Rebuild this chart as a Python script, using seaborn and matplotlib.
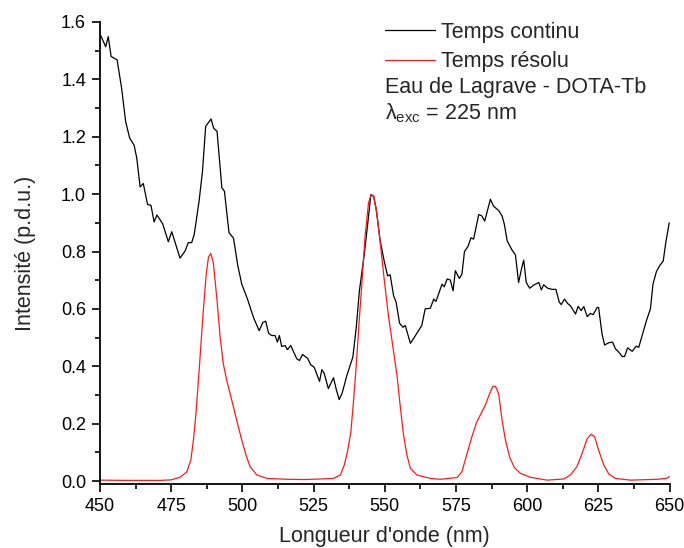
import matplotlib
matplotlib.use("Agg")
import matplotlib.pyplot as plt
from matplotlib.ticker import MultipleLocator
import seaborn as sns
import pandas as pd

# Temps continu (black)
cont_wl = [450.3, 452.0, 452.9, 453.9, 456.0, 457.6, 459.0, 460.4, 462.0, 462.9,
           464.1, 465.2, 466.7, 467.9, 469.0, 470.0, 472.0, 474.0, 475.2, 478.1,
           479.9, 481.0, 482.2, 483.1, 484.8, 486.0, 487.1, 489.0, 489.9, 491.1,
           492.8, 493.7, 495.3, 496.9, 498.4, 499.8, 501.8, 503.9, 505.9, 507.2,
           508.2, 509.2, 510.3, 511.5, 512.3, 513.0, 513.8, 515.0, 515.8, 517.0,
           519.1, 520.1, 521.1, 522.9, 524.0, 525.2, 527.1, 527.9, 528.7, 530.2,
           532.0, 533.0, 534.0, 535.0, 536.7, 538.8, 540.0, 541.1, 542.8, 544.0,
           545.1, 546.1, 547.0, 548.4, 549.8, 551.0, 551.9, 553.1, 554.0, 555.2,
           556.4, 557.2, 559.0, 560.4, 563.0, 564.2, 566.0, 567.2, 568.0, 570.1,
           570.9, 571.9, 573.0, 574.0, 574.8, 576.2, 577.1, 578.0, 579.2, 580.3,
           581.2, 583.0, 584.1, 585.1, 587.1, 588.2, 590.0, 591.2, 592.0, 593.0,
           594.7, 595.9, 597.0, 598.0, 598.8, 599.7, 600.9, 602.5, 604.1, 605.0,
           605.8, 607.2, 608.7, 610.1, 611.3, 612.0, 613.1, 614.2, 615.2, 617.0,
           617.9, 619.0, 619.9, 621.1, 622.2, 623.2, 624.6, 625.1, 626.3, 627.2,
           628.7, 630.0, 631.0, 632.2, 633.4, 634.2, 635.3, 636.9, 638.3, 639.2,
           640.4, 641.9, 643.3, 644.2, 645.4, 646.5, 647.8, 648.7, 649.9]
cont_val = [1.552, 1.514, 1.549, 1.480, 1.468, 1.369, 1.253, 1.196, 1.170, 1.126,
            1.025, 1.037, 0.964, 0.961, 0.903, 0.927, 0.897, 0.834, 0.869, 0.777,
            0.802, 0.831, 0.831, 0.860, 0.976, 1.080, 1.236, 1.262, 1.230, 1.219,
            1.022, 1.010, 0.866, 0.846, 0.750, 0.686, 0.634, 0.570, 0.524, 0.553,
            0.557, 0.515, 0.507, 0.507, 0.484, 0.507, 0.469, 0.472, 0.458, 0.472,
            0.426, 0.420, 0.441, 0.428, 0.405, 0.397, 0.347, 0.388, 0.376, 0.322,
            0.360, 0.318, 0.284, 0.305, 0.368, 0.432, 0.536, 0.663, 0.790, 0.895,
            0.997, 0.993, 0.947, 0.837, 0.767, 0.715, 0.719, 0.646, 0.623, 0.550,
            0.536, 0.542, 0.480, 0.501, 0.542, 0.600, 0.602, 0.634, 0.626, 0.686,
            0.677, 0.704, 0.701, 0.663, 0.733, 0.706, 0.721, 0.800, 0.817, 0.848,
            0.843, 0.929, 0.924, 0.906, 0.982, 0.958, 0.943, 0.924, 0.895, 0.837,
            0.805, 0.788, 0.692, 0.738, 0.770, 0.692, 0.672, 0.684, 0.692, 0.666,
            0.684, 0.672, 0.668, 0.668, 0.623, 0.615, 0.634, 0.619, 0.611, 0.582,
            0.609, 0.594, 0.608, 0.573, 0.584, 0.580, 0.605, 0.605, 0.513, 0.474,
            0.482, 0.484, 0.461, 0.449, 0.434, 0.434, 0.464, 0.452, 0.470, 0.466,
            0.507, 0.559, 0.600, 0.686, 0.730, 0.750, 0.767, 0.831, 0.900]

# Temps résolu (red)
res_wl = [450.0, 460.0, 471.1, 475.0, 478.1, 480.5, 481.9, 482.8, 483.7, 484.9,
          486.1, 487.3, 488.1, 488.9, 489.8, 491.0, 492.2, 493.3, 494.5, 496.3,
          498.0, 499.8, 501.3, 502.7, 505.1, 508.6, 515.6, 522.0, 527.3, 532.0,
          534.4, 535.8, 536.9, 538.1, 539.0, 540.0, 540.9, 542.0, 543.1, 544.3,
          545.3, 546.1, 547.2, 548.4, 549.8, 551.3, 552.8, 554.3, 555.4, 556.6,
          557.8, 559.0, 561.3, 566.0, 569.5, 575.4, 577.1, 578.9, 580.6, 582.2,
          583.8, 585.3, 586.8, 588.0, 588.9, 590.0, 591.2, 592.4, 593.9, 595.5,
          597.6, 601.1, 607.0, 612.8, 615.2, 617.5, 619.3, 621.1, 622.5, 623.7,
          625.1, 626.9, 628.7, 631.0, 636.3, 645.7, 648.9, 650.0]
res_val = [0.003, 0.002, 0.002, 0.004, 0.013, 0.032, 0.073, 0.142, 0.235, 0.397,
           0.570, 0.721, 0.781, 0.793, 0.761, 0.640, 0.501, 0.409, 0.351, 0.281,
           0.212, 0.142, 0.090, 0.050, 0.021, 0.009, 0.006, 0.005, 0.007, 0.009,
           0.021, 0.056, 0.102, 0.171, 0.275, 0.403, 0.542, 0.692, 0.854, 0.970,
           0.999, 0.993, 0.935, 0.831, 0.704, 0.576, 0.472, 0.368, 0.264, 0.160,
           0.090, 0.044, 0.021, 0.009, 0.006, 0.012, 0.032, 0.096, 0.154, 0.203,
           0.235, 0.264, 0.304, 0.330, 0.330, 0.304, 0.212, 0.142, 0.082, 0.047,
           0.027, 0.013, 0.003, 0.007, 0.021, 0.050, 0.096, 0.148, 0.163, 0.154,
           0.108, 0.056, 0.024, 0.009, 0.003, 0.006, 0.009, 0.015]

x_ticks = [450, 475, 500, 525, 550, 575, 600, 625, 650]
y_ticks = [0.0, 0.2, 0.4, 0.6, 0.8, 1.0, 1.2, 1.4, 1.6]

sns.set_style("ticks")
plt.rcParams['font.family'] = ['Liberation Sans', 'DejaVu Sans']
plt.rcParams['mathtext.fontset'] = 'custom'
plt.rcParams['mathtext.rm'] = 'Liberation Sans'
plt.rcParams['mathtext.it'] = 'Liberation Sans'

fig = plt.figure(figsize=(6.84, 5.48), dpi=100)
ax = fig.add_axes([100 / 684, 63.7 / 548, 569.5 / 684, 462.3 / 548])

df_c = pd.DataFrame({"wl": cont_wl, "val": cont_val})
df_r = pd.DataFrame({"wl": res_wl, "val": res_val})
sns.lineplot(data=df_c, x="wl", y="val", ax=ax, color="black", linewidth=0.9,
             label="Temps continu")
sns.lineplot(data=df_r, x="wl", y="val", ax=ax, color="#ff1a1a", linewidth=0.9,
             label="Temps résolu")

ax.set_xlim(450, 650)
ax.set_ylim(-0.0115, 1.6)
ax.set_xticks(x_ticks)
ax.set_yticks(y_ticks)
ax.set_yticklabels([f"{v:.1f}" for v in y_ticks])
ax.xaxis.set_minor_locator(MultipleLocator(12.5))
ax.yaxis.set_minor_locator(MultipleLocator(0.1))
ax.tick_params(which='major', direction='out', length=6, width=1.2,
               labelsize=13, color='black', labelcolor='black', pad=4)
ax.tick_params(which='minor', direction='out', length=3.5, width=1.2, color='black')
for side in ['top', 'right']:
    ax.spines[side].set_visible(False)
for side in ['left', 'bottom']:
    ax.spines[side].set_linewidth(1.3)
    ax.spines[side].set_color('black')
ax.grid(False)

ax.set_xlabel("Longueur d'onde (nm)", fontsize=15.5, labelpad=8)
ax.set_ylabel("Intensité (p.d.u.)", fontsize=15.5, labelpad=18)

leg = ax.legend(loc='upper left', bbox_to_anchor=(385 / 684, 1 - 22 / 548),
                bbox_transform=fig.transFigure, frameon=False, fontsize=15.5,
                handlelength=2.3, handletextpad=0.3, labelspacing=0.38,
                borderpad=0, borderaxespad=0)
fig.text(385 / 684, 1 - 88 / 548, "Eau de Lagrave - DOTA-Tb", fontsize=15.5,
         va='center', ha='left')
fig.text(385 / 684, 1 - 113 / 548, r"λ$_{\mathrm{exc}}$ = 225 nm", fontsize=15.5,
         va='center', ha='left')

fig.savefig("out.png", dpi=100)
